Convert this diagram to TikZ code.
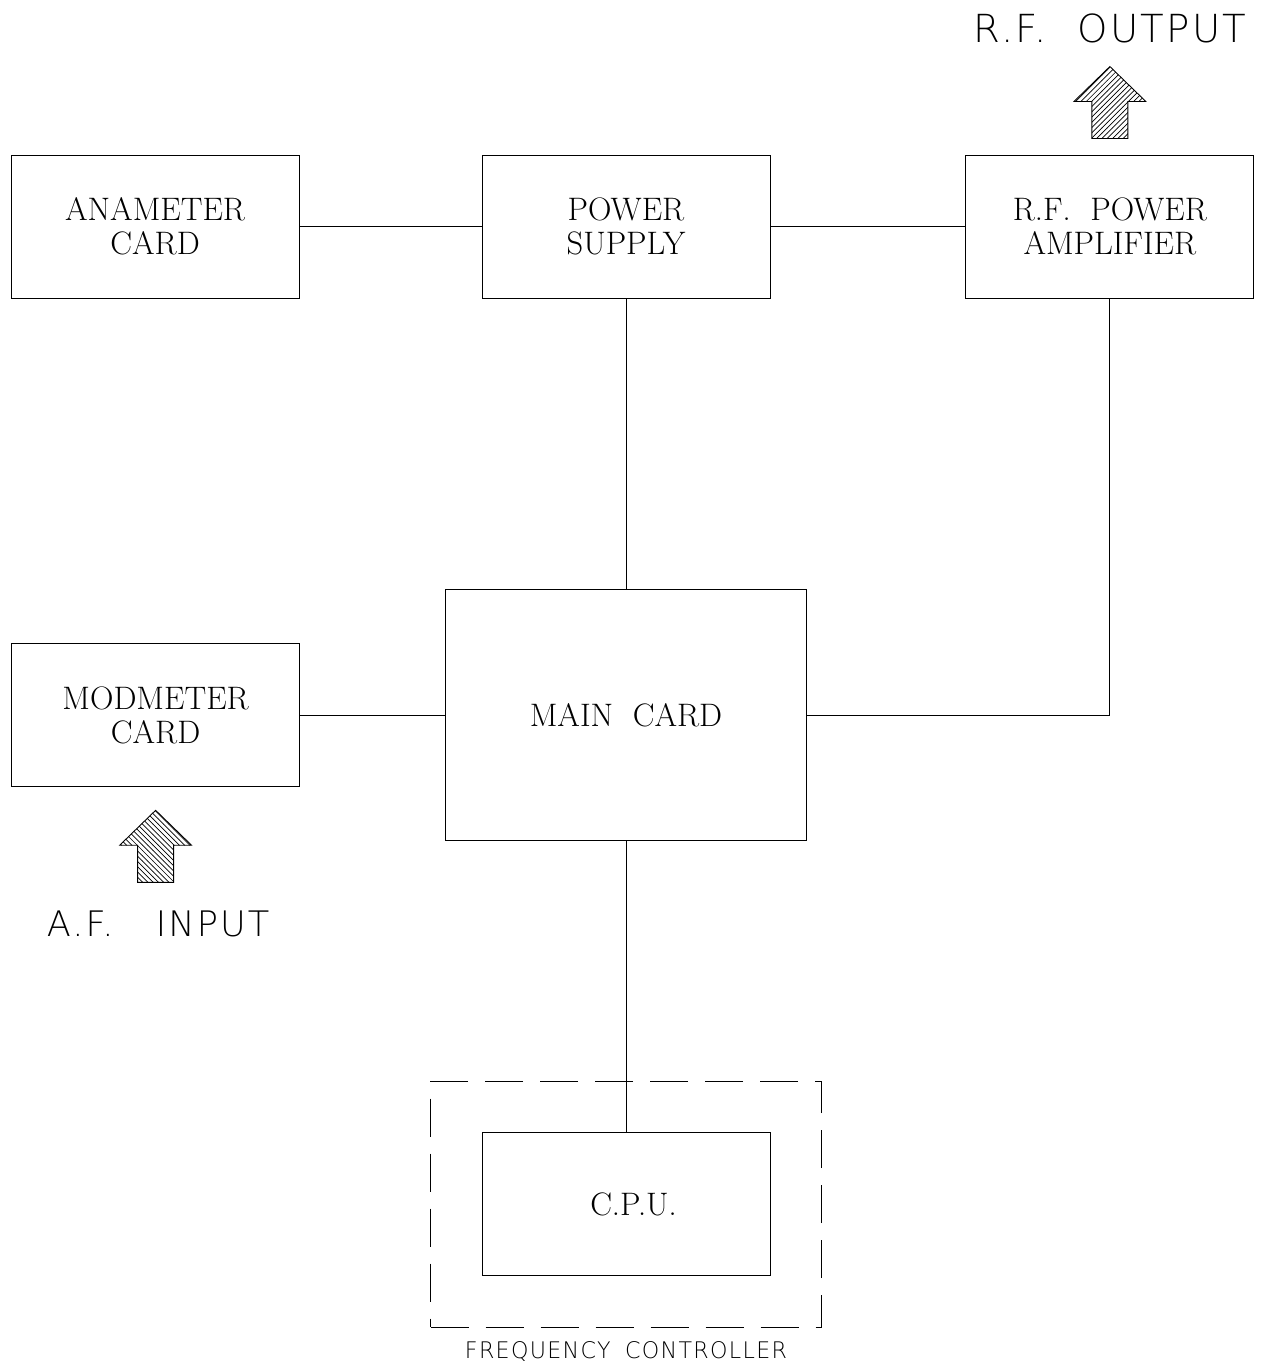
\documentclass[tikz,border=0pt]{standalone}
\usepackage{graphicx}
\usepackage{fontspec}
\usepackage{tikz}
\usetikzlibrary{fit,patterns,positioning}
\newfontfamily\thinsans[LetterSpace=6]{DejaVu Sans ExtraLight}
\tikzset{
  tcbox/.style={draw, line width=.5pt, align=center, minimum width=5.76cm, minimum height=2.86cm, inner sep=2pt, font=\fontsize{18.5}{19.5}\selectfont},
  tcmain/.style={tcbox, minimum width=7.22cm, minimum height=5.02cm},
  tcframe/.style={draw, line width=.5pt, dash pattern=on .76cm off .34cm, inner sep=1.02cm},
  tcline/.style={line width=.5pt},
  tclabel/.style={anchor=base, inner sep=0pt},
  pics/tcarrow/.style={code={
    \draw[line width=.5pt, pic actions] (-.36,0) -- (-.36,.74) -- (-.72,.74) -- (0,1.44) -- (.72,.74) -- (.36,.74) -- (.36,0) -- cycle;
  }}
}
\begin{document}
\begin{tikzpicture}
  \useasboundingbox (0,0) rectangle (25.26,27.34);
  \node[tcbox] (supply) at (12.52,22.81) {POWER\\SUPPLY};
  \node[tcbox, left=3.64cm of supply] (anameter) {ANAMETER\\CARD};
  \node[tcbox, right=3.9cm of supply] (rfamp) {R.F.\ \ POWER\\AMPLIFIER};
  \node[tcmain, below=5.82cm of supply] (main) {MAIN\ \ CARD};
  \node[tcbox, below=5.82cm of main] (cpu) {\hspace{.3cm}C.P.U.};
  \node[tcbox, left=2.9cm of main] (modmeter) {MODMETER\\CARD};
  \node[tcframe, fit=(cpu)] (freq) {};
  \draw[tcline] (anameter) -- (supply);
  \draw[tcline] (supply) -- (rfamp);
  \draw[tcline] (supply) -- (main);
  \draw[tcline] (modmeter) -- (main);
  \draw[tcline] (rfamp.south) |- (main.east);
  \draw[tcline] (main) -- (cpu);
  % signal arrows
  \pic[pattern=north east lines] at ([yshift=.32cm]rfamp.north) {tcarrow};
  \pic[pattern=north west lines] at ([yshift=-1.9cm]modmeter.south) {tcarrow};
  \node[tclabel, font=\thinsans\fontsize{22}{26}\selectfont] (rfout) at ([yshift=2.24cm]rfamp.north) {R.F.\hspace{.62cm}OUTPUT};
  \node[tclabel, font=\thinsans\fontsize{20}{24}\selectfont] (afin) at ([xshift=.05cm, yshift=-2.98cm]modmeter.south) {A.F.\hspace{.85cm}INPUT};
  \node[tclabel, font=\thinsans\fontsize{13}{16}\selectfont] (freqlbl) at (freq.south |- 0,.18) {\scalebox{.97}[1]{FREQUENCY\hspace{.3cm}CONTROLLER}};
\end{tikzpicture}
\end{document}
